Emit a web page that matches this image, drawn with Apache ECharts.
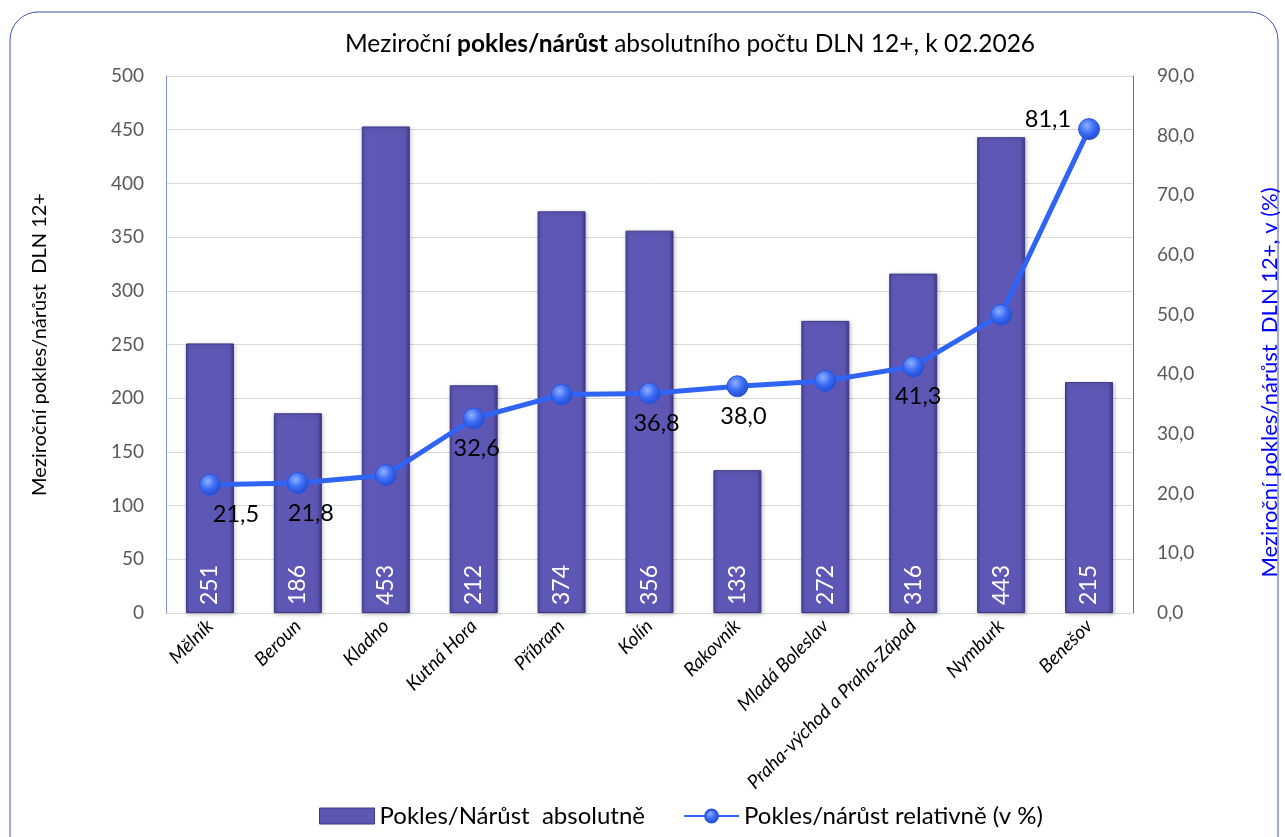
<!DOCTYPE html>
<html>
<head>
<meta charset="utf-8">
<script src="https://cdn.jsdelivr.net/npm/echarts@6/dist/echarts.min.js"></script>
<style>
html,body{margin:0;padding:0;background:#fff;}
#chart{width:1285px;height:837px;}
</style>
</head>
<body>
<div id="chart"></div>
<script>
const categories = ['Mělník','Beroun','Kladno','Kutná Hora','Příbram','Kolín','Rakovník','Mladá Boleslav','Praha-východ a Praha-Západ','Nymburk','Benešov'];
const absoluteValues = [251,186,453,212,374,356,133,272,316,443,215];
const relativeValues = [21.5,21.8,23.1,32.6,36.6,36.8,38.0,38.9,41.3,50.0,81.1];
const leftTicks = {min:0,max:500,interval:50};
const rightTicks = {min:0,max:90,interval:10};
const barName = 'Pokles/Nárůst  absolutně';
const lineName = 'Pokles/nárůst relativně (v %)';

// which points carry a value label, and how it is placed
const labelSpec = {
  0:{position:'bottom',offset:[26,0]},
  1:{position:'bottom',offset:[13,0]},
  3:{position:'bottom',offset:[3,0]},
  5:{position:'bottom',offset:[7,0]},
  6:{position:'bottom',offset:[6,0]},
  8:{position:'bottom',offset:[5,0]},
  10:{position:'left',offset:[0,-10]}
};

const FONT = 'Lato';
const chart = echarts.init(document.getElementById('chart'));

const barGrad = new echarts.graphic.LinearGradient(0,0,1,0,[
  {offset:0,color:'#4a449c'},
  {offset:0.07,color:'#5f58b7'},
  {offset:0.9,color:'#5d56b3'},
  {offset:1,color:'#413b8c'}
]);
const dotGrad = new echarts.graphic.RadialGradient(0.4,0.35,0.7,[
  {offset:0,color:'#8fb0ff'},
  {offset:0.5,color:'#3a6cf5'},
  {offset:1,color:'#1f47c8'}
]);

const lineData = relativeValues.map((v,i)=>{
  const s = labelSpec[i];
  if(!s) return {value:v,label:{show:false}};
  return {value:v,label:{show:true,position:s.position,offset:s.offset,distance:7}};
});

chart.setOption({
  animation:false,
  textStyle:{fontFamily:FONT},
  graphic:[{
    type:'rect',
    shape:{x:10,y:12,width:1268,height:860,r:28},
    style:{fill:'none',stroke:'#3a4fb0',lineWidth:1},
    silent:true
  }],
  title:{
    text:'Meziroční {b|pokles/nárůst} absolutního počtu DLN 12+, k 02.2026',
    left:340,top:27,
    textStyle:{
      fontFamily:FONT,fontSize:24.5,fontWeight:'normal',color:'#000',
      rich:{b:{fontFamily:FONT,fontSize:24.5,fontWeight:'bold',color:'#000'}}
    }
  },
  legend:{
    bottom:4,left:314,
    itemWidth:55,itemHeight:16,itemGap:38,
    textStyle:{fontFamily:FONT,fontSize:24,color:'#000'},
    data:[
      {name:barName,icon:'rect',itemStyle:{color:'#5d56b3',borderColor:'#3d3886',borderWidth:1}},
      {name:lineName}
    ]
  },
  grid:{left:166,right:152,top:76,bottom:224,containLabel:false,outerBoundsMode:'none'},
  xAxis:{
    type:'category',
    data:categories,
    axisLine:{show:true,lineStyle:{color:'#d9d9d9',width:1}},
    axisTick:{show:false},
    axisLabel:{rotate:45,interval:0,fontSize:19,fontStyle:'italic',color:'#000',fontFamily:FONT,margin:10}
  },
  yAxis:[{
    type:'value',
    min:leftTicks.min,max:leftTicks.max,interval:leftTicks.interval,
    name:'Meziroční pokles/nárůst  DLN 12+',
    nameLocation:'middle',nameRotate:90,nameGap:116,
    nameTextStyle:{fontSize:20,color:'#000',fontFamily:FONT},
    axisLine:{show:true,lineStyle:{color:'#8090d0',width:1}},
    axisTick:{show:false},
    axisLabel:{fontSize:19,color:'#595959',margin:22,fontFamily:FONT},
    splitLine:{show:true,lineStyle:{color:'#d9d9d9',width:1}}
  },{
    type:'value',
    min:rightTicks.min,max:rightTicks.max,interval:rightTicks.interval,
    position:'right',
    name:'Meziroční pokles/nárůst  DLN 12+, v (%)',
    nameLocation:'middle',nameRotate:90,nameGap:126,
    nameTextStyle:{fontSize:22,color:'#0000ff',fontFamily:FONT,padding:[0,76,0,0]},
    axisLine:{show:true,lineStyle:{color:'#5a6cc8',width:1}},
    axisTick:{show:false},
    axisLabel:{fontSize:19,color:'#595959',margin:24,fontFamily:FONT,
      formatter:v=>v.toFixed(1).replace('.',',')},
    splitLine:{show:false}
  }],
  series:[{
    name:barName,
    type:'bar',
    yAxisIndex:0,
    data:absoluteValues,
    barWidth:48,
    itemStyle:{color:barGrad,borderColor:'#3d3886',borderWidth:1,
      shadowColor:'rgba(0,0,0,0.25)',shadowBlur:4,shadowOffsetX:1,shadowOffsetY:1},
    label:{show:true,position:'insideBottom',rotate:90,align:'left',verticalAlign:'middle',
      distance:8,color:'#fff',fontSize:23,fontFamily:FONT}
  },{
    name:lineName,
    type:'line',
    yAxisIndex:1,
    data:lineData,
    symbol:'circle',symbolSize:21,
    lineStyle:{color:'#2f64f5',width:5},
    itemStyle:{color:dotGrad,borderColor:'#2a55d8',borderWidth:1},
    label:{color:'#000',fontSize:23.5,fontFamily:FONT,
      formatter:p=>p.value.toFixed(1).replace('.',',')},
    z:5
  }]
});
</script>
</body>
</html>
